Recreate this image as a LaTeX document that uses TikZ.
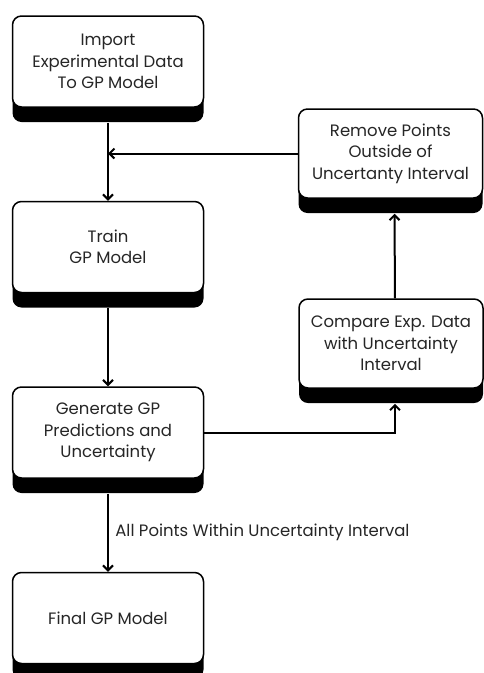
\documentclass[tikz,border=0pt]{standalone}
\usepackage{fontspec}
\setmainfont{Poppins}
\usepackage{tikz}
\usetikzlibrary{calc,positioning,shadows,arrows.meta}
\definecolor{txtgray}{HTML}{262626}
\tikzstyle{line} = [draw, line width=2pt, -{Straight Barb[length=5pt,width=10pt,line width=2pt]}]
\tikzstyle{stepbox} = [rectangle, rounded corners=9pt, draw=black, line width=1.5pt, fill=white,
  minimum width=191pt, minimum height=91pt, align=center, text=txtgray,
  font=\fontsize{16.5pt}{21.5pt}\selectfont,
  general shadow={fill=black, shadow yshift=-15pt}]
\tikzstyle{sidebox} = [stepbox, minimum width=184pt, minimum height=89pt]

\begin{document}
\begin{tikzpicture}[node distance=185.5pt, align=center]
\useasboundingbox (0,0) rectangle (483pt,-673pt);

\node (node0) [stepbox] at (108pt,-61.5pt) {Import\\Experimental Data\\To GP Model};

\node (node1) [stepbox,below of=node0] {Train\\GP Model};
\path [line] ([yshift=-15pt]node0.south) -- (node1.north);

\node (node2) [stepbox,below of=node1] {Generate GP\\Predictions and\\Uncertainty};
\path [line] ([yshift=-15pt]node1.south) -- (node2.north);

\node (node3) [stepbox,below of=node2] {Final GP Model};
\path [line] ([yshift=-15pt]node2.south) -- node [midway,right=0.3em,text=txtgray,font=\fontsize{16.5pt}{20pt}\selectfont] {All Points Within Uncertainty Interval} (node3.north);

\node (node4) [sidebox] at (391pt,-343.5pt) {Compare Exp. Data\\with Uncertainty\\Interval};
\path [line] (node2.east) -| ([xshift=4pt,yshift=-15pt]node4.south);

\node (node5) [sidebox] at (390.5pt,-153.5pt) {Remove Points\\Outside of\\Uncertanty Interval};
\path [line] ([xshift=4pt]node4.north) -- ([xshift=4pt,yshift=-15pt]node5.south);
\path [line] (node5.west) -- (node5.west -| node0);

\end{tikzpicture}
\end{document}
